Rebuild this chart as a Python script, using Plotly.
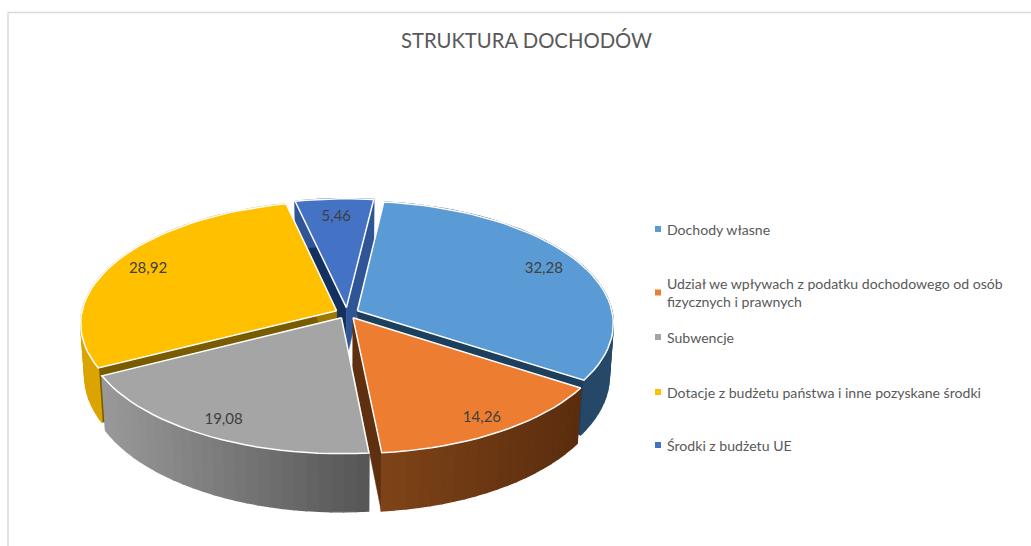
import math
import plotly.graph_objects as go

# ---- data ----
categories = [
    "Dochody własne",
    "Udział we wpływach z podatku dochodowego od osób<br>fizycznych i prawnych",
    "Subwencje",
    "Dotacje z budżetu państwa i inne pozyskane środki",
    "Środki z budżetu UE",
]
values = [32.28, 14.26, 19.08, 28.92, 5.46]
chart_title = "STRUKTURA DOCHODÓW"

# ---- styles ----
top_colors = ["#5B9BD5", "#ED7D31", "#A5A5A5", "#FFC000", "#4472C4"]
wall_left = ["#1f3a55", "#7f4318", "#999999", "#dba400", "#2f5597"]
wall_right = ["#27496a", "#5a2d0e", "#555555", "#dba400", "#2f5597"]
face_start = ["#2f5f8f", "#5f3010", "#6a6a6a", "#7a5c00", "#14305f"]
face_end = ["#1d3f5e", "#5f3010", "#6a6a6a", "#a07800", "#2f5597"]
label_radius = [0.84, 0.89, 0.88, 0.85, 0.82]
draw_order = [4, 0, 3, 1, 2]
legend_rows = [229, 292.5, 337, 392, 445]

START_DEG = 6.8
CX, CY = 347, 313
RX, RY = 255, 121
PERSP = 0.102
EXPLODE = 0.045
DEPTH = 52
CONVERGE = 0.985


def project(u, v, bottom=False):
    s = 1 / (1 - PERSP * v)
    x = CX + RX * u * s
    y = CY + RY * v * s
    if bottom:
        x = CX + (x - CX) * CONVERGE
        y += DEPTH * s
    return x, y


def lerp_hex(a, b, t):
    ca = [int(a[i:i + 2], 16) for i in (1, 3, 5)]
    cb = [int(b[i:i + 2], 16) for i in (1, 3, 5)]
    return "#" + "".join(f"{round(p + (q - p) * t):02x}" for p, q in zip(ca, cb))


def poly(points, color, line_color=None, line_width=1.4):
    xs = [p[0] for p in points] + [points[0][0]]
    ys = [p[1] for p in points] + [points[0][1]]
    return go.Scatter(
        x=xs, y=ys, mode="lines", fill="toself", fillcolor=color,
        line=dict(color=line_color or color, width=line_width),
        hoverinfo="skip", showlegend=False,
    )


total = sum(values)
spans = []
a = START_DEG
for val in values:
    d = val / total * 360
    spans.append((a, a + d))
    a += d

fig = go.Figure()
label_x, label_y, label_t = [], [], []

for i in draw_order:
    a0, a1 = spans[i]
    mid = math.radians((a0 + a1) / 2)
    ox, oy = EXPLODE * math.sin(mid), -EXPLODE * math.cos(mid)
    n = max(4, int((a1 - a0) / 2.5))
    rim = []
    for k in range(n + 1):
        t = math.radians(a0 + (a1 - a0) * k / n)
        rim.append((ox + math.sin(t), oy - math.cos(t)))

    # radial cut faces
    for (ru, rv), col in ((rim[0], face_start[i]), (rim[-1], face_end[i])):
        fig.add_trace(poly([project(ox, oy), project(ru, rv),
                            project(ru, rv, True), project(ox, oy, True)], col, None, 0.5))
    # outer wall, shaded in small strips running clockwise
    xs_all = [project(*r)[0] for r in rim]
    span = max(xs_all) - min(xs_all) or 1
    for k in range(n):
        p, q = rim[k], rim[k + 1]
        frac = ((project(*p)[0] + project(*q)[0]) / 2 - min(xs_all)) / span
        col = lerp_hex(wall_left[i], wall_right[i], frac)
        fig.add_trace(poly([project(*p), project(*q),
                            project(*q, True), project(*p, True)], col))
    # top surface
    outline = [project(ox, oy)] + [project(*p) for p in rim]
    fig.add_trace(poly(outline, top_colors[i], "#ffffff", 1.5))

    lr = label_radius[i]
    lx, ly = project(ox + lr * math.sin(mid), oy - lr * math.cos(mid))
    label_x.append(lx)
    label_y.append(ly)
    label_t.append(f"{values[i]:.2f}".replace(".", ","))

fig.add_trace(go.Scatter(
    x=label_x, y=label_y, text=label_t, mode="text",
    textfont=dict(family="Lato", size=15, color="#404040"),
    textposition="middle center", hoverinfo="skip", showlegend=False,
))

# legend drawn beside the pie
fig.add_trace(go.Scatter(
    x=[658] * len(categories), y=legend_rows, mode="markers",
    marker=dict(symbol="square", size=6, color=top_colors),
    hoverinfo="skip", showlegend=False,
))
annotations = [
    dict(x=665, y=yy, xref="x", yref="y", text=name, showarrow=False,
         xanchor="left", yanchor="middle", align="left",
         font=dict(family="Lato", size=14.1, color="#595959"))
    for name, yy in zip(categories, legend_rows)
]

fig.update_layout(
    width=1031, height=546,
    margin=dict(l=0, r=0, t=0, b=0),
    paper_bgcolor="#ffffff", plot_bgcolor="#ffffff",
    title=dict(text=chart_title, x=526.5 / 1031, y=1 - 41 / 546,
               xanchor="center", yanchor="middle",
               font=dict(family="Lato", size=20.3, color="#595959")),
    xaxis=dict(range=[0, 1031], visible=False, fixedrange=True),
    yaxis=dict(range=[546, 0], visible=False, fixedrange=True),
    annotations=annotations,
    shapes=[
        dict(type="line", xref="x", yref="y", x0=8, y0=12.5, x1=1031, y1=12.5,
             line=dict(color="#d9d9d9", width=1.5)),
        dict(type="line", xref="x", yref="y", x0=8, y0=12.5, x1=8, y1=546,
             line=dict(color="#d9d9d9", width=1.5)),
    ],
)

fig.write_html(
    "out.html",
    config={"displayModeBar": False},
    post_script="document.body.style.margin='0';document.body.style.overflow='hidden';",
)
